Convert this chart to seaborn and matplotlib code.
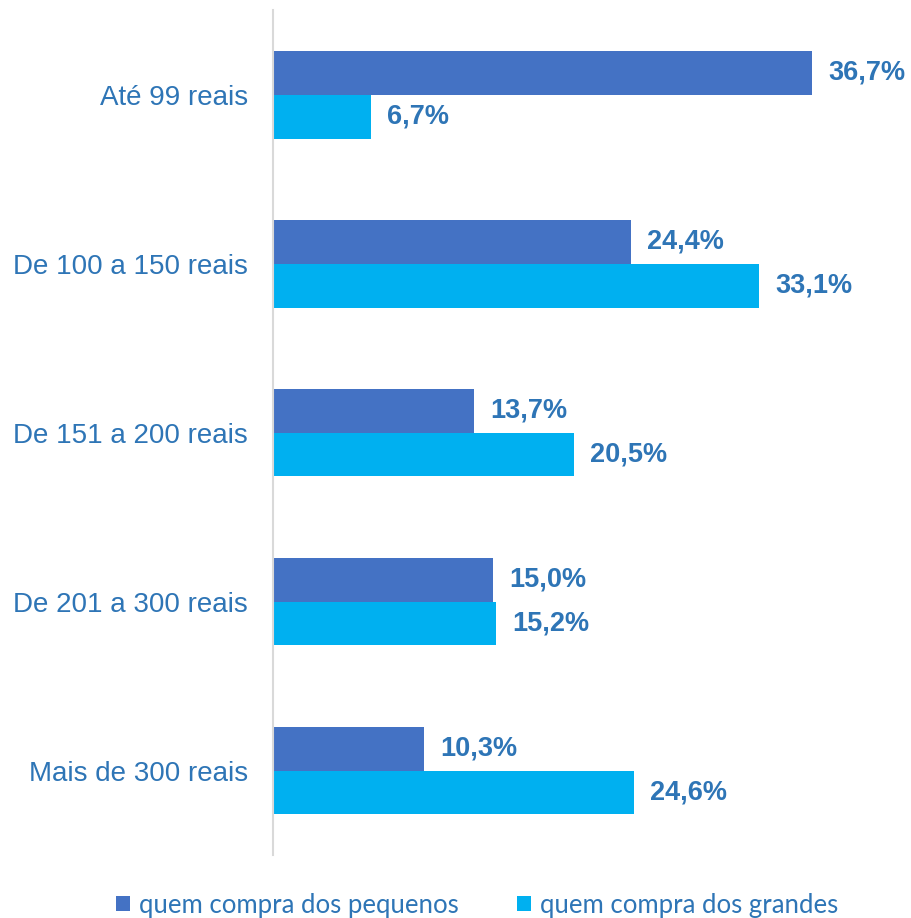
import pandas as pd
import matplotlib
matplotlib.use('Agg')
import matplotlib.pyplot as plt
import seaborn as sns
from matplotlib.patches import Patch

# dados
faixas = ['Até 99 reais', 'De 100 a 150 reais', 'De 151 a 200 reais',
          'De 201 a 300 reais', 'Mais de 300 reais']
pequenos = [36.7, 24.4, 13.7, 15.0, 10.3]
grandes = [6.7, 33.1, 20.5, 15.2, 24.6]
series = ['quem compra dos pequenos', 'quem compra dos grandes']
cores = ['#4472C4', '#00B0F0']
cor_texto = '#2E75B6'

df = pd.DataFrame({
    'faixa': faixas * 2,
    'valor': pequenos + grandes,
    'serie': [series[0]] * len(faixas) + [series[1]] * len(faixas),
})

sns.set_style('white')
plt.rcParams['font.family'] = ['Liberation Sans', 'DejaVu Sans']

fig = plt.figure(figsize=(9.12, 9.18), dpi=100)
ax = fig.add_axes([0.2993, 0.0686, 0.6907, 0.9204])

sns.barplot(data=df, y='faixa', x='valor', hue='serie', hue_order=series,
            order=faixas, palette=cores, orient='h', width=0.52, gap=0,
            saturation=1, linewidth=0, ax=ax, legend=False)

for cont in ax.containers:
    labels = [f"{v:.1f}%".replace('.', ',') for v in cont.datavalues]
    ax.bar_label(cont, labels=labels, padding=11.5, fontsize=19.5,
                 fontweight='bold', color=cor_texto)

ax.set_xlim(0, 630 / 14.69)
ax.set_ylim(4.5, -0.5)
ax.set_xlabel('')
ax.set_ylabel('')
ax.set_xticks([])
ax.tick_params(axis='y', length=0, pad=18, labelsize=20, labelcolor=cor_texto)
for s in ['top', 'right', 'bottom']:
    ax.spines[s].set_visible(False)
ax.spines['left'].set_color('#D9D9D9')
ax.spines['left'].set_linewidth(1.5)

handles = [Patch(facecolor=c, edgecolor='none') for c in cores]
leg = fig.legend(handles, series, loc='center', bbox_to_anchor=(0.523, 1 - 905 / 918),
                 ncol=2, frameon=False, handlelength=0.55, handleheight=0.55,
                 handletextpad=0.35, columnspacing=2.25,
                 prop={'family': 'Lato', 'size': 18.5})
for t in leg.get_texts():
    t.set_color(cor_texto)

fig.savefig('out.png', dpi=100)
